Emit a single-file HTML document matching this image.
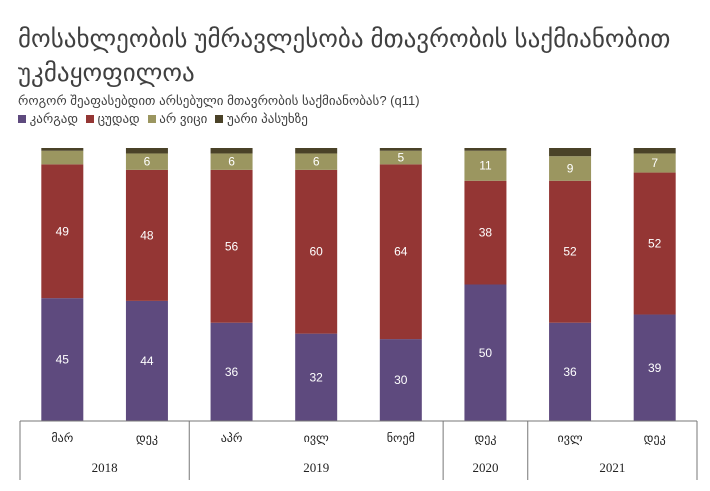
<!DOCTYPE html>
<html><head><meta charset="utf-8"><style>
body{margin:0;background:#fff;width:710px;height:491px;overflow:hidden;font-family:"Liberation Sans","DejaVu Sans",sans-serif}
.t{position:absolute;color:#404040}
</style></head><body>
<div class="t" style="left:18px;top:22px;font-size:25px;line-height:34px">მოსახლეობის უმრავლესობა მთავრობის საქმიანობით<br>უკმაყოფილოა</div>
<div class="t" style="left:18px;top:93px;font-size:13px">როგორ შეაფასებდით არსებული მთავრობის საქმიანობას?  (q11)</div>
<div style="position:absolute;left:18px;top:111px;font-size:13px;color:#404040;display:flex;gap:8px">
<span><i style="display:inline-block;width:8px;height:8px;background:#5e4a7e"></i> კარგად</span>
<span><i style="display:inline-block;width:8px;height:8px;background:#943634"></i> ცუდად</span>
<span><i style="display:inline-block;width:8px;height:8px;background:#9b9660"></i> არ ვიცი</span>
<span><i style="display:inline-block;width:8px;height:8px;background:#4a4228"></i> უარი პასუხზე</span>
</div>
<svg id="c" width="710" height="491" style="position:absolute;left:0;top:0"></svg>
<script>
const months=["მარ","დეკ","აპრ","ივლ","ნოემ","დეკ","ივლ","დეკ"];
const good=[45,44,36,32,30,50,36,39];
const bad=[49,48,56,60,64,38,52,52];
const dontKnow=[5,6,6,6,5,11,9,7];
const refuse=[1,2,2,2,1,1,3,2];
const years=["2018","2019","2020","2021"];
const yearSpans=[2,3,1,2];
(function(){
const colors=["#5e4a7e","#943634","#9b9660","#4a4228"];
const svg=document.getElementById('c');const NS="http://www.w3.org/2000/svg";
const x0=20,x1=697,base=421,plotTop=148,slot=(x1-x0)/8,bw=42;
const xc=i=>x0+slot*(i+0.5);
const y=v=>base-(base-plotTop)*v/100;
function mk(t,a){const e=document.createElementNS(NS,t);for(const k in a)e.setAttribute(k,a[k]);svg.appendChild(e);return e;}
const series=[good,bad,dontKnow,refuse];const sn=["good","bad","dont-know","refuse"];
for(let i=0;i<months.length;i++){let acc=0;
 series.forEach((s,k)=>{const v=s[i];const r=mk('rect',{x:xc(i)-bw/2,y:y(acc+v),width:bw,height:y(acc)-y(acc+v),fill:colors[k]});
 
 
 if(k<3&&v>=5&&!(k==2&&i==0)){const t=mk('text',{x:xc(i),y:(y(acc)+y(acc+v))/2+4,'text-anchor':'middle','font-size':12,fill:'#fff'});t.textContent=v;
 
 }
 acc+=v;});
 const m=mk('text',{x:xc(i),y:442,'text-anchor':'middle','font-size':12,fill:'#222','font-family':'DejaVu Sans'});m.textContent=months[i];
 
 
}
const ax=mk('line',{x1:x0,x2:x1,y1:base,y2:base,stroke:'#777'});


let s=0;const l0=mk('line',{x1:x0,x2:x0,y1:base,y2:480,stroke:'#777'});


years.forEach((yr,j)=>{const a=s;s+=yearSpans[j];
 const ln=mk('line',{x1:x0+slot*s,x2:x0+slot*s,y1:base,y2:480,stroke:'#777'});
 
 
 const t=mk('text',{x:x0+slot*(a+s)/2,y:472,'text-anchor':'middle','font-size':13,fill:'#222','font-family':'Liberation Serif'});t.textContent=yr;
 
 
});
})();
</script>
</body></html>
